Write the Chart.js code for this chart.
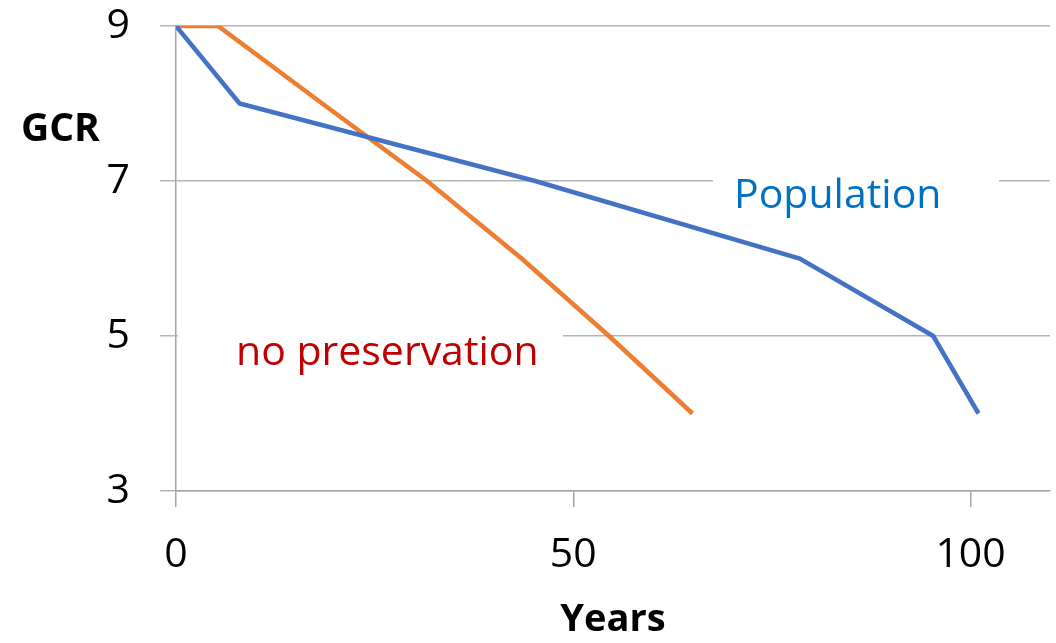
<!DOCTYPE html>
<html>
<head>
<meta charset="utf-8">
<script src="https://cdn.jsdelivr.net/npm/chart.js@4"></script>
<style>
  html, body { margin: 0; padding: 0; background: #fff; }
  #wrap { width: 1056px; height: 643px; }
</style>
</head>
<body>
<div id="wrap"><canvas id="gcrChart" width="1056" height="643"></canvas></div>
<script>
// values
const popYears = [0, 8, 45.2, 78.5, 95.3, 101];
const popGcr = [9, 8, 7, 6, 5, 4];
const noPresYears = [0, 5.3, 18.4, 31.6, 43.5, 54.5, 65];
const noPresGcr = [9, 9, 8, 7, 6, 5, 4];
const xTickValues = [0, 50, 100];
const yTickValues = [3, 5, 7, 9];

const FONT = "'Open Sans', 'Noto Sans', sans-serif";

function toPoints(xs, ys) {
    return xs.map((x, i) => ({ x: x, y: ys[i] }));
}

// series labels sit on white boxes that hide the gridlines behind them
const labelBoxes = {
    id: 'labelBoxes',
    beforeDatasetsDraw(chart) {
        const ctx = chart.ctx;
        ctx.save();
        ctx.fillStyle = '#ffffff';
        ctx.fillRect(713, 168, 286, 50);
        ctx.fillRect(178, 322, 385, 50);

        ctx.font = '41px ' + FONT;
        ctx.textBaseline = 'alphabetic';
        ctx.textAlign = 'left';
        ctx.fillStyle = '#0070C0';
        ctx.fillText('Population', 734, 208);
        ctx.fillStyle = '#C00000';
        ctx.fillText('no preservation', 236, 365);

        // horizontal y-axis title
        ctx.font = 'bold 39px ' + FONT;
        ctx.fillStyle = '#000000';
        ctx.fillText('GCR', 21, 141);
        ctx.restore();
    }
};

const ctx = document.getElementById('gcrChart').getContext('2d');
new Chart(ctx, {
    type: 'scatter',
    data: {
        datasets: [
            {
                label: 'Population',
                data: toPoints(popYears, popGcr),
                showLine: true,
                borderColor: '#4472C4',
                backgroundColor: '#4472C4',
                borderWidth: 4.5,
                pointRadius: 0,
                tension: 0
            },
            {
                label: 'no preservation',
                data: toPoints(noPresYears, noPresGcr),
                showLine: true,
                borderColor: '#ED7D31',
                backgroundColor: '#ED7D31',
                borderWidth: 4.5,
                pointRadius: 0,
                tension: 0
            }
        ]
    },
    options: {
        responsive: false,
        animation: false,
        layout: { padding: { top: 26, right: 6, left: 0, bottom: 0 } },
        plugins: {
            legend: { display: false },
            tooltip: { enabled: false }
        },
        scales: {
            x: {
                type: 'linear',
                min: 0,
                max: 110,
                afterBuildTicks: scale => {
                    scale.ticks = xTickValues.map(v => ({ value: v }));
                },
                afterFit: scale => {
                    scale.height = 152;
                    scale.paddingLeft = 0;
                    scale.paddingRight = 0;
                },
                ticks: {
                    color: '#000000',
                    font: { family: FONT, size: 41 },
                    padding: 24,
                    maxRotation: 0
                },
                grid: {
                    drawOnChartArea: false,
                    drawTicks: true,
                    tickLength: 16,
                    color: '#A6A6A6',
                    lineWidth: 1.5
                },
                border: { color: '#A6A6A6', width: 1.5 },
                title: {
                    display: true,
                    text: 'Years',
                    color: '#000000',
                    font: { family: FONT, size: 38, weight: 'bold' },
                    padding: { top: 0, bottom: 0 }
                }
            },
            y: {
                type: 'linear',
                min: 3,
                max: 9,
                afterBuildTicks: scale => {
                    scale.ticks = yTickValues.map(v => ({ value: v }));
                },
                afterFit: scale => {
                    scale.width = 176;
                    scale.paddingTop = 0;
                    scale.paddingBottom = 0;
                },
                ticks: {
                    color: '#000000',
                    font: { family: FONT, size: 41 },
                    padding: 30
                },
                grid: {
                    drawOnChartArea: true,
                    drawTicks: true,
                    tickLength: 16,
                    color: '#B4B4B4',
                    lineWidth: 1.5
                },
                border: { color: '#A6A6A6', width: 1.5 }
            }
        }
    },
    plugins: [labelBoxes]
});
</script>
</body>
</html>
